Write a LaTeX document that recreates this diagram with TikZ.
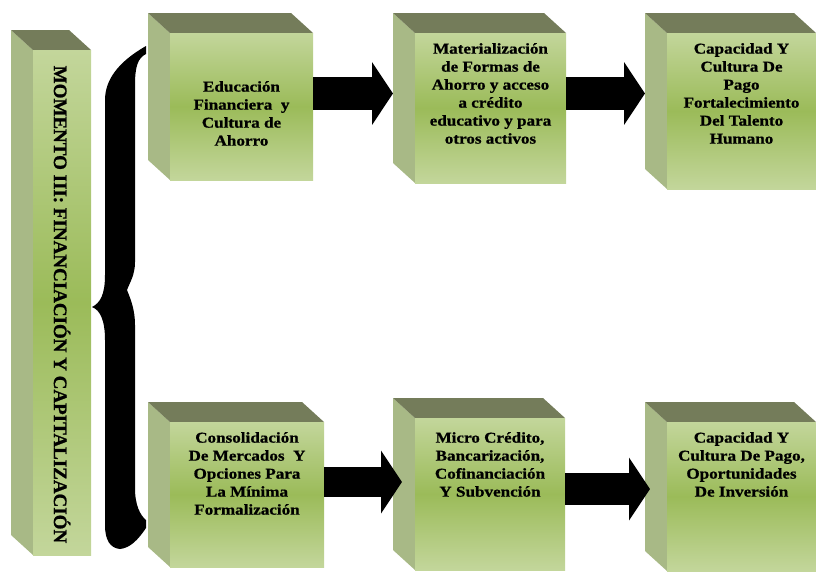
\documentclass[tikz,border=0pt]{standalone}
\usepackage{fontspec}
\setmainfont{Liberation Serif}[FakeStretch=1.14, BoldFeatures={FakeBold=0.8}]
\newfontfamily\sidefont{Liberation Serif}[BoldFeatures={FakeBold=1}]
\usetikzlibrary{arrows.meta,calc,fit,positioning}
\definecolor{facelight}{HTML}{C3D69B}
\definecolor{facemid}{HTML}{9BBB59}
\definecolor{sidegreen}{HTML}{A8B986}
\definecolor{topolive}{HTML}{747C5A}
\def\cubebox#1(#2,#3)(#4,#5){%
	\fill[sidegreen] (#2,#3) -- (#2-22,#3-20) -- (#2-22,#5-20) -- (#2,#5) -- cycle;
	\fill[topolive] (#2,#3) -- (#2-22,#3-20) -- (#4-22,#3-20) -- (#4,#3) -- cycle;
	\node[fit={(#2,#3) (#4,#5)}, inner sep=0, outer sep=0, top color=facelight, bottom color=facelight, middle color=facemid] (#1) {};
	\coordinate (#1-s) at (#2-22,#3);}

\begin{document}
\begin{tikzpicture}[x=1pt, y=-1pt,
	boxtext/.style={align=center, inner sep=0, font=\bfseries\fontsize{15}{18}\selectfont},
	bigarrow/.style={line width=#1, -{Triangle[length=21pt,width=62pt]}}]
			%%%%% START %%%%%
			\useasboundingbox (0,0) rectangle (816,571);
			
			\cubebox{mom}(33,50)(91,555)
			\node[rotate=-90, inner sep=0, font=\sidefont\bfseries\fontsize{19}{20}\selectfont] (momt) at ([yshift=-2pt]mom.center) {MOMENTO III: FINANCIACIÓN Y CAPITALIZACIÓN};
			
			% brace
			\fill[black] (146,46) -- (146,54) .. controls (138,58) and (135,66) .. (135,85)
				-- (135,262) .. controls (135,275) and (130,282) .. (127,290)
				.. controls (131,300) and (135,310) .. (135,325)
				-- (135,488) .. controls (135,505) and (140,515) .. (146,520)
				-- (146,528) .. controls (138,540) and (130,548) .. (120,549)
				.. controls (110,548) and (105,540) .. (105,525)
				-- (105,340) .. controls (105,320) and (100,310) .. (92,307)
				.. controls (100,303) and (105,295) .. (105,275)
				-- (105,100) .. controls (105,80) and (118,62) .. (146,46) -- cycle;
			
			% upper row
			\cubebox{edu}(170,33)(313,180)
			\node[boxtext, below=48pt of edu.north] (edut) {Educación\\Financiera\ \ y\\Cultura de\\Ahorro};
			\cubebox{form}(415,33)(566,183)
			\node[boxtext, below=10pt of form.north] (formt) {Materialización\\de Formas de\\Ahorro y acceso\\a crédito\\educativo y para\\otros activos};
			\cubebox{pago}(667,33)(816,189)
			\node[boxtext, below=10pt of pago.north] (pagot) {Capacidad Y\\Cultura De\\Pago\\Fortalecimiento\\Del Talento\\Humano};
			
			\draw[bigarrow=33pt] (edu.east |- 0,93.5) -- (form-s |- 0,93.5);
			\draw[bigarrow=33pt] (form.east |- 0,93.5) -- (pago-s |- 0,93.5);
			
			% lower row
			\cubebox{merc}(170,422)(324,567)
			\node[boxtext, below=10pt of merc.north] (merct) {Consolidación\\De Mercados\ \ Y\\Opciones Para\\La Mínima\\Formalización};
			\cubebox{micro}(415,418)(565,570)
			\node[boxtext, below=14pt of micro.north] (microt) {Micro Crédito,\\Bancarización,\\Cofinanciación\\Y Subvención};
			\cubebox{inv}(667,422)(816,571)
			\node[boxtext, below=10pt of inv.north] (invt) {Capacidad Y\\Cultura De Pago,\\Oportunidades\\De Inversión};
			
			\draw[bigarrow=30pt] (merc.east |- 0,482) -- ($(micro-s |- 0,482)+(9,0)$);
			\draw[bigarrow=32pt] (micro.east |- 0,489) -- ($(inv-s |- 0,489)+(5,0)$);
			
			%%%%% END %%%%%
\end{tikzpicture}
\end{document}
